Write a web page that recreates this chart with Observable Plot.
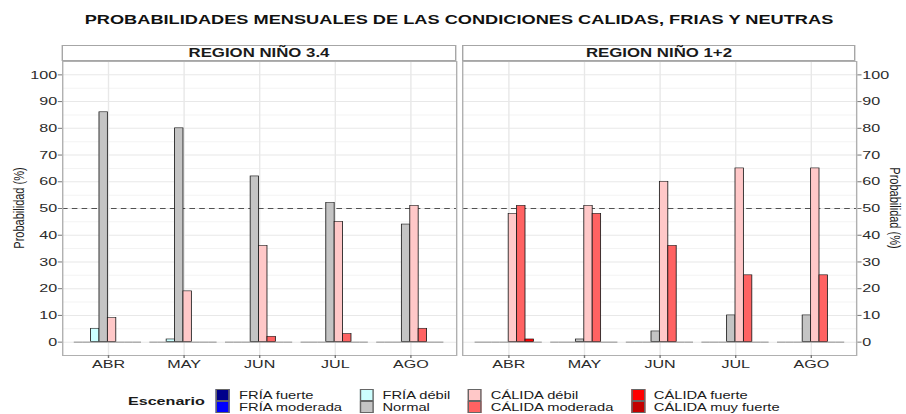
<!DOCTYPE html>
<html>
<head>
<meta charset="utf-8">
<script src="https://cdn.jsdelivr.net/npm/d3@7"></script>
<script src="https://cdn.jsdelivr.net/npm/@observablehq/plot@0.6"></script>
<style>
  html, body { margin: 0; padding: 0; background: #fff; overflow: hidden; }
  #stage { position: relative; width: 647px; height: 414px; transform: scaleX(1.4); transform-origin: 0 0;
           font-family: "Liberation Sans", Arial, sans-serif; color: #1a1a1a; }
  .abs { position: absolute; }
  .layer { position: absolute; left: 0; top: 0; }
  #title { left: 44.3px; width: 567.1px; top: 12px; text-align: center; font-weight: bold; font-size: 13px; line-height: 16px; color: #111; white-space: nowrap; }
  .strip { top: 45px; height: 16px; box-sizing: border-box; border: 1px solid #a6a6a6; background: #fff;
           font-weight: bold; font-size: 12px; line-height: 14px; text-align: center; color: #1a1a1a; }
  .ylab { font-size: 11px; line-height: 12px; white-space: nowrap; color: #1a1a1a; }
  #legend { left: 91.4px; top: 389px; display: flex; align-items: center; font-size: 10.5px; }
  #legend .ttl { font-weight: bold; font-size: 11.5px; margin-right: 8px; }
  #legend .grid { display: grid; grid-auto-flow: column; grid-template-rows: 12px 12px; column-gap: 12.5px; }
  #legend .item { display: flex; align-items: center; height: 12px; line-height: 12px; white-space: nowrap; color: #1a1a1a; }
  #legend .sw { width: 10px; height: 12px; box-sizing: border-box; border: 0.7px solid #666; margin-right: 6.4px; }
</style>
</head>
<body>
<div id="stage">
  <div id="title" class="abs"></div>
  <div id="strip0" class="abs strip" style="left:44.3px;width:281.4px"></div>
  <div id="strip1" class="abs strip" style="left:330px;width:281.4px"></div>
  <div id="chart0" class="abs" style="left:0px;top:56px;width:328px;height:319px"></div>
  <div id="chart1" class="abs" style="left:328px;top:56px;width:319px;height:319px"></div>
  <div id="ylabL" class="abs ylab" style="left:12.9px;top:208px;transform:translate(-50%,-50%) rotate(-90deg)"></div>
  <div id="ylabR" class="abs ylab" style="left:640.4px;top:208px;transform:translate(-50%,-50%) rotate(90deg)"></div>
  <div id="legend" class="abs"></div>
</div>
<script>
// ---- data ----
const titleText = "PROBABILIDADES MENSUALES DE LAS CONDICIONES CALIDAS, FRIAS Y NEUTRAS";
const regions = ["REGION NIÑO 3.4", "REGION NIÑO 1+2"];
const months = ["ABR", "MAY", "JUN", "JUL", "AGO"];
const categories = ["FRÍA fuerte", "FRÍA moderada", "FRÍA débil", "Normal",
                    "CÁLIDA débil", "CÁLIDA moderada", "CÁLIDA fuerte", "CÁLIDA muy fuerte"];
const yTicks = [0, 10, 20, 30, 40, 50, 60, 70, 80, 90, 100];
const yMinor = [5, 15, 25, 35, 45, 55, 65, 75, 85, 95];
const threshold = [50];
const yLabel = "Probabilidad (%)";
const legendTitle = "Escenario";

// rows follow `categories`, columns follow `months`
const nino34 = [
  [0, 0, 0, 0, 0],
  [0, 0, 0, 0, 0],
  [5, 1, 0, 0, 0],
  [86, 80, 62, 52, 44],
  [9, 19, 36, 45, 51],
  [0, 0, 2, 3, 5],
  [0, 0, 0, 0, 0],
  [0, 0, 0, 0, 0]
];
const nino12 = [
  [0, 0, 0, 0, 0],
  [0, 0, 0, 0, 0],
  [0, 0, 0, 0, 0],
  [0, 1, 4, 10, 10],
  [48, 51, 60, 65, 65],
  [51, 48, 36, 25, 25],
  [1, 0, 0, 0, 0],
  [0, 0, 0, 0, 0]
];

// ---- styles ----
const colors = ["#00008b", "#0000ff", "#ccffff", "#c4c4c4", "#ffc8c8", "#ff6262", "#ff0000", "#c40000"];

function toRows(values) {
  const rows = [];
  categories.forEach((c, i) => months.forEach((m, j) => rows.push({month: m, cat: c, value: values[i][j]})));
  return rows;
}

const H = 319, MT = 5, MB = 20;
const baseStyle = {fontFamily: "Liberation Sans, Arial, sans-serif", fontSize: "11.5px", color: "#333", overflow: "visible"};

// background layer: panel frame, grid, threshold line, axes
function background(side, width, marginLeft, marginRight) {
  return Plot.plot({
    width, height: H, marginTop: MT, marginBottom: MB, marginLeft, marginRight,
    style: {...baseStyle, background: "transparent"},
    x: {type: "band", domain: months, paddingInner: 0, paddingOuter: 0.1, axis: null, label: null},
    y: {domain: [-5, 105], axis: null},
    marks: [
      Plot.gridY({ticks: yMinor, stroke: "#f3f3f3", strokeOpacity: 1}),
      Plot.gridY({ticks: yTicks, stroke: "#e8e8e8", strokeOpacity: 1}),
      Plot.gridX({stroke: "#e8e8e8", strokeOpacity: 1}),
      Plot.ruleY(threshold, {stroke: "#333", strokeDasharray: "4,3", strokeWidth: 0.7}),
      Plot.frame({stroke: "#b0b0b0"}),
      Plot.axisY({anchor: side, ticks: yTicks, tickSize: 3, tickPadding: 1, label: null, stroke: "#777", fill: "#2b2b2b"}),
      Plot.axisX({anchor: "bottom", tickSize: 3, tickPadding: 1.5, label: null, stroke: "#777", fill: "#2b2b2b"})
    ]
  });
}

// foreground layer: dodged bars, faceted by month
function bars(values, width, marginLeft, marginRight) {
  const rows = toRows(values);
  return Plot.plot({
    width, height: H, marginTop: MT, marginBottom: MB, marginLeft, marginRight,
    style: {...baseStyle, background: "transparent"},
    fx: {domain: months, paddingInner: 0, paddingOuter: 0.1, axis: null, label: null},
    x: {domain: categories, paddingInner: 0, paddingOuter: 0.444, axis: null},
    y: {domain: [-5, 105], axis: null},
    color: {domain: categories, range: colors},
    marks: [
      Plot.tickY(rows, {fx: "month", x: "cat", y: () => 0, stroke: "#8c8c8c", strokeWidth: 1}),
      Plot.barY(rows, {fx: "month", x: "cat", y: "value", fill: "cat", stroke: "#1a1a1a", strokeWidth: 0.6})
    ]
  });
}

function mount(id, values, side, width, ml, mr) {
  const host = document.getElementById(id);
  const a = background(side, width, ml, mr); a.classList.add("layer");
  const b = bars(values, width, ml, mr); b.classList.add("layer");
  host.append(a, b);
}

document.getElementById("title").textContent = titleText;
document.getElementById("strip0").textContent = regions[0];
document.getElementById("strip1").textContent = regions[1];
document.getElementById("ylabL").textContent = yLabel;
document.getElementById("ylabR").textContent = yLabel;
mount("chart0", nino34, "left", 328, 44.3, 2.3);
mount("chart1", nino12, "right", 319, 2, 35.6);

// legend (2 rows, filled by column)
const legend = document.getElementById("legend");
const t = document.createElement("div");
t.className = "ttl"; t.textContent = legendTitle;
legend.append(t);
const grid = document.createElement("div");
grid.className = "grid";
categories.forEach((c, i) => {
  const item = document.createElement("div");
  item.className = "item";
  const sw = document.createElement("div");
  sw.className = "sw"; sw.style.background = colors[i];
  const lab = document.createElement("span");
  lab.textContent = c;
  item.append(sw, lab);
  grid.append(item);
});
legend.append(grid);
</script>
</body>
</html>
